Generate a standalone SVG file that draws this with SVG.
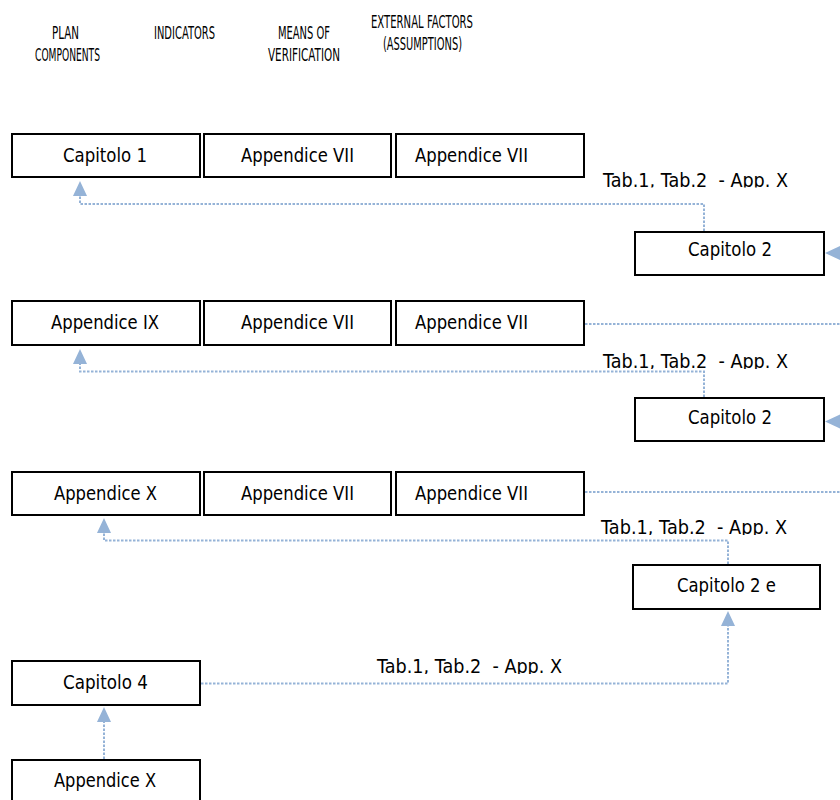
<svg xmlns="http://www.w3.org/2000/svg" width="840" height="800" viewBox="0 0 840 800">
<style>
.box{fill:#ffffff;stroke:#000000;stroke-width:2}
.t{font-family:"DejaVu Sans","Liberation Sans",Arial,sans-serif;font-size:18.7px;fill:#000000}
.l{white-space:pre}
.h{font-family:"DejaVu Sans","Liberation Sans",Arial,sans-serif;font-size:17px;fill:#000000}
.c{fill:none;stroke:#95B3D7;stroke-width:2;stroke-dasharray:2.5 1.5}
</style>
<defs>
<marker id="ah" markerUnits="userSpaceOnUse" markerWidth="16" markerHeight="16" refX="0" refY="7" orient="auto">
<path d="M0,0 L15,7 L0,14 z" fill="#95B3D7"/>
</marker>
<clipPath id="cl1"><rect x="590" y="165" width="220" height="22.5"/></clipPath>
<clipPath id="cl2"><rect x="590" y="346" width="220" height="23"/></clipPath>
<clipPath id="cl3"><rect x="590" y="512" width="220" height="23"/></clipPath>
<clipPath id="cl4"><rect x="360" y="651" width="220" height="23"/></clipPath>
</defs>
<rect width="840" height="800" fill="#ffffff"/>

<g id="headers">
<text class="h" x="52" y="39" textLength="27" lengthAdjust="spacingAndGlyphs">PLAN</text>
<text class="h" x="35" y="61" textLength="65" lengthAdjust="spacingAndGlyphs">COMPONENTS</text>
<text class="h" x="154" y="39" textLength="61" lengthAdjust="spacingAndGlyphs">INDICATORS</text>
<text class="h" x="278" y="39" textLength="52" lengthAdjust="spacingAndGlyphs">MEANS OF</text>
<text class="h" x="268" y="61" textLength="72" lengthAdjust="spacingAndGlyphs">VERIFICATION</text>
<text class="h" x="371" y="28.3" textLength="102" lengthAdjust="spacingAndGlyphs">EXTERNAL FACTORS</text>
<text class="h" x="383" y="50.3" textLength="79" lengthAdjust="spacingAndGlyphs">(ASSUMPTIONS)</text>
</g>

<g id="connectors">
<path class="c" d="M704,231 V204 H80 V196" marker-end="url(#ah)"/>
<path class="c" d="M704,397 V371.5 H80 V364" marker-end="url(#ah)"/>
<path class="c" d="M728,564 V540.5 H104 V533" marker-end="url(#ah)"/>
<path class="c" d="M201,683.5 H728 V626" marker-end="url(#ah)"/>
<path class="c" d="M104,759 V722" marker-end="url(#ah)"/>
<path class="c" d="M585,324 H842"/>
<path class="c" d="M585,492 H842"/>
<path class="c" d="M870,253 H840" marker-end="url(#ah)"/>
<path class="c" d="M870,421.5 H840" marker-end="url(#ah)"/>
</g>

<g id="labels">
<text class="t l" xml:space="preserve" x="603" y="186.7" clip-path="url(#cl1)" textLength="185" lengthAdjust="spacingAndGlyphs">Tab.1, Tab.2  - App. X</text>
<text class="t l" xml:space="preserve" x="603" y="368.3" clip-path="url(#cl2)" textLength="185" lengthAdjust="spacingAndGlyphs">Tab.1, Tab.2  - App. X</text>
<text class="t l" xml:space="preserve" x="601" y="534.3" clip-path="url(#cl3)" textLength="186" lengthAdjust="spacingAndGlyphs">Tab.1, Tab.2  - App. X</text>
<text class="t l" xml:space="preserve" x="377" y="673.3" clip-path="url(#cl4)" textLength="185" lengthAdjust="spacingAndGlyphs">Tab.1, Tab.2  - App. X</text>
</g>

<g id="r1c1"><rect class="box" x="12" y="134" width="188" height="43"/><text class="t" x="63" y="161.5" textLength="84" lengthAdjust="spacingAndGlyphs">Capitolo 1</text></g>
<g id="r1c2"><rect class="box" x="204" y="134" width="187" height="43"/><text class="t" x="241" y="161.5" textLength="113" lengthAdjust="spacingAndGlyphs">Appendice VII</text></g>
<g id="r1c3"><rect class="box" x="396" y="134" width="188" height="43"/><text class="t" x="415" y="161.5" textLength="113" lengthAdjust="spacingAndGlyphs">Appendice VII</text></g>
<g id="cap2a"><rect class="box" x="635" y="232" width="189" height="43"/><text class="t" x="688" y="255.5" textLength="84" lengthAdjust="spacingAndGlyphs">Capitolo 2</text></g>

<g id="r2c1"><rect class="box" x="12" y="301" width="188" height="44"/><text class="t" x="51" y="329.3" textLength="108" lengthAdjust="spacingAndGlyphs">Appendice IX</text></g>
<g id="r2c2"><rect class="box" x="204" y="301" width="187" height="44"/><text class="t" x="241" y="329.3" textLength="113" lengthAdjust="spacingAndGlyphs">Appendice VII</text></g>
<g id="r2c3"><rect class="box" x="396" y="301" width="188" height="44"/><text class="t" x="415" y="329.3" textLength="113" lengthAdjust="spacingAndGlyphs">Appendice VII</text></g>
<g id="cap2b"><rect class="box" x="635" y="398" width="189" height="43"/><text class="t" x="688" y="424" textLength="84" lengthAdjust="spacingAndGlyphs">Capitolo 2</text></g>

<g id="r3c1"><rect class="box" x="12" y="472" width="188" height="43"/><text class="t" x="54" y="500" textLength="103" lengthAdjust="spacingAndGlyphs">Appendice X</text></g>
<g id="r3c2"><rect class="box" x="204" y="472" width="187" height="43"/><text class="t" x="241" y="500" textLength="113" lengthAdjust="spacingAndGlyphs">Appendice VII</text></g>
<g id="r3c3"><rect class="box" x="396" y="472" width="188" height="43"/><text class="t" x="415" y="500" textLength="113" lengthAdjust="spacingAndGlyphs">Appendice VII</text></g>
<g id="cap2e"><rect class="box" x="633" y="565" width="187" height="44"/><text class="t" x="677" y="592.3" textLength="99" lengthAdjust="spacingAndGlyphs">Capitolo 2 e</text></g>

<g id="cap4"><rect class="box" x="12" y="661" width="188" height="44"/><text class="t" x="63" y="689" textLength="85" lengthAdjust="spacingAndGlyphs">Capitolo 4</text></g>
<g id="appx"><rect class="box" x="12" y="760" width="188" height="50"/><text class="t" x="54" y="786.7" textLength="102" lengthAdjust="spacingAndGlyphs">Appendice X</text></g>
</svg>
